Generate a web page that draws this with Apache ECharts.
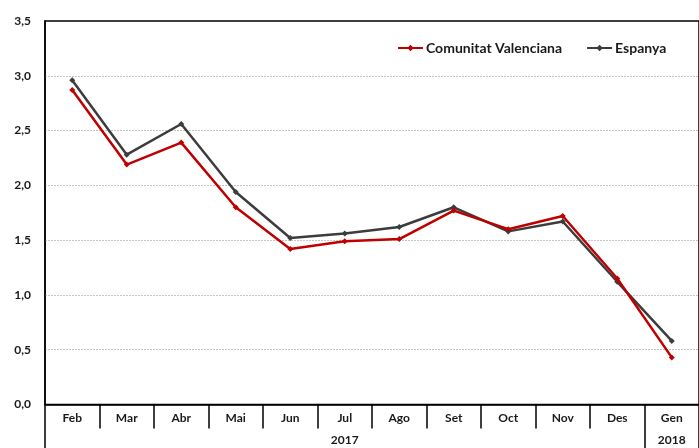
<!DOCTYPE html>
<html>
<head>
<meta charset="utf-8">
<script src="https://cdn.jsdelivr.net/npm/echarts@6/dist/echarts.min.js"></script>
<style>html,body{margin:0;padding:0;background:#fff;}#c{width:699px;height:448px;}</style>
</head>
<body>
<div id="c"></div>
<script>
var months = ['Feb','Mar','Abr','Mai','Jun','Jul','Ago','Set','Oct','Nov','Des','Gen'];
var years = ['2017','2018'];
var yearLabelPos = [5.5, 11.5];
var yearBreaks = [0, 11, 12];
var seriesNames = ['Comunitat Valenciana','Espanya'];
var valenciana = [2.87, 2.19, 2.39, 1.80, 1.42, 1.49, 1.51, 1.77, 1.60, 1.72, 1.15, 0.43];
var espanya = [2.96, 2.28, 2.56, 1.94, 1.52, 1.56, 1.62, 1.80, 1.58, 1.67, 1.12, 0.58];

var font = 'Lato, "Open Sans", sans-serif';
var chart = echarts.init(document.getElementById('c'), null, {renderer:'canvas'});
chart.setOption({
  animation: false,
  backgroundColor: '#fff',
  grid: {left: 45, top: 21, width: 662.4, height: 383.5, show: true, borderColor: '#000', borderWidth: 1.5, backgroundColor: 'transparent'},
  legend: {
    top: 36, left: 392, itemWidth: 25, itemHeight: 8, itemGap: 24,
    textStyle: {fontFamily: font, fontWeight: 'bold', fontSize: 14, color: '#1a1a1a', padding: [0,0,0,-2]},
    data: seriesNames
  },
  xAxis: [{
    type: 'category', data: months, boundaryGap: true, gridIndex: 0,
    axisLine: {lineStyle: {color: '#000', width: 1.5}},
    axisTick: {show: true, interval: 0, length: 24, lineStyle: {color: '#000', width: 1.5}},
    axisLabel: {interval: 0, margin: 8, fontFamily: font, fontWeight: 'bold', fontSize: 12, color: '#1a1a1a'}
  }, {
    type: 'value', min: 0, max: 12, position: 'bottom', gridIndex: 0,
    axisLine: {show: false}, splitLine: {show: false},
    axisTick: {show: true, customValues: yearBreaks, length: 46, lineStyle: {color: '#000', width: 1.5}},
    axisLabel: {customValues: yearLabelPos, margin: 30, fontFamily: font, fontWeight: 'bold', fontSize: 12, color: '#1a1a1a',
      formatter: function(v){ return v < 11 ? years[0] : years[1]; }}
  }],
  yAxis: {
    type: 'value', min: 0, max: 3.5, interval: 0.5,
    axisLine: {show: true, lineStyle: {color: '#000', width: 1.5}},
    axisTick: {show: false},
    axisLabel: {margin: 14, fontFamily: font, fontWeight: 'bold', fontSize: 12, color: '#1a1a1a',
      formatter: function(v){ return v.toFixed(1).replace('.', ','); }},
    splitLine: {show: true, showMinLine: false, showMaxLine: false, lineStyle: {color: '#c4c4c4', type: [2,1], width: 1}}
  },
  series: [{
    name: seriesNames[0], type: 'line', data: valenciana, xAxisIndex: 0,
    symbol: 'diamond', symbolSize: 6, z: 3,
    lineStyle: {color: '#c00000', width: 2.5},
    itemStyle: {color: '#c00000'}
  }, {
    name: seriesNames[1], type: 'line', data: espanya, xAxisIndex: 0,
    symbol: 'diamond', symbolSize: 6, z: 2,
    lineStyle: {color: '#3c3c3c', width: 2.5},
    itemStyle: {color: '#3c3c3c'}
  }]
});
</script>
</body>
</html>
